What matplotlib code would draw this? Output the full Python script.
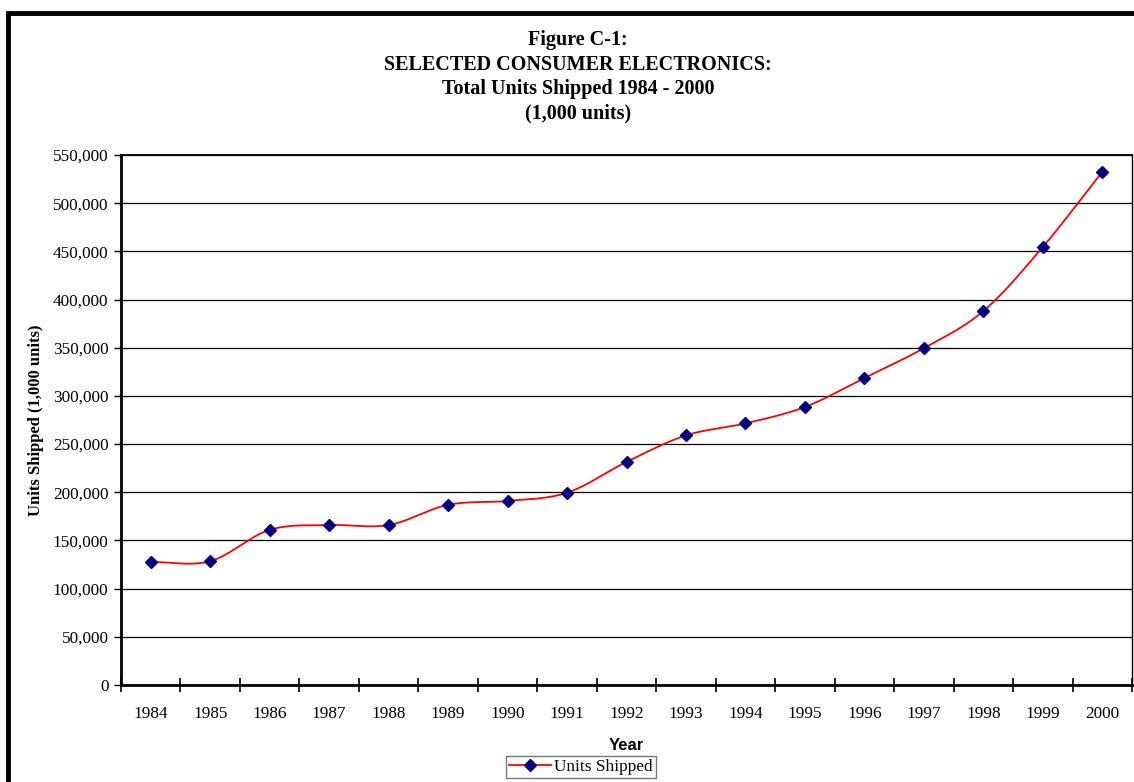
import matplotlib.pyplot as plt
import matplotlib.patches as patches
import numpy as np

years = ["1984", "1985", "1986", "1987", "1988", "1989", "1990", "1991", "1992",
         "1993", "1994", "1995", "1996", "1997", "1998", "1999", "2000"]
units = [127600, 128500, 161000, 166000, 166000, 187000, 191000, 199500, 231500,
         259000, 271500, 288500, 318500, 349500, 388000, 454500, 532500]
y_ticks = list(range(0, 550001, 50000))


def smooth(x, y, n=20):
    # Catmull-Rom style curve like Excel's "smoothed line"
    x = np.asarray(x, float)
    y = np.asarray(y, float)
    px = np.concatenate([[2 * x[0] - x[1]], x, [2 * x[-1] - x[-2]]])
    py = np.concatenate([[2 * y[0] - y[1]], y, [2 * y[-1] - y[-2]]])
    xs, ys = [], []
    t = np.linspace(0, 1, n)
    for i in range(1, len(px) - 2):
        p0, p1, p2, p3 = px[i - 1], px[i], px[i + 1], px[i + 2]
        q0, q1, q2, q3 = py[i - 1], py[i], py[i + 1], py[i + 2]
        b1x, b1y = p1 + (p2 - p0) / 6, q1 + (q2 - q0) / 6
        b2x, b2y = p2 - (p3 - p1) / 6, q2 - (q3 - q1) / 6
        xs.append((1 - t) ** 3 * p1 + 3 * (1 - t) ** 2 * t * b1x + 3 * (1 - t) * t ** 2 * b2x + t ** 3 * p2)
        ys.append((1 - t) ** 3 * q1 + 3 * (1 - t) ** 2 * t * b1y + 3 * (1 - t) * t ** 2 * b2y + t ** 3 * q2)
    return np.concatenate(xs), np.concatenate(ys)


serif = "Liberation Serif"
sans = "Liberation Sans"

fig = plt.figure(figsize=(11.34, 7.82), dpi=100)
ax = fig.add_axes([121 / 1134, 97 / 782, 1011 / 1134, 530 / 782])

x = np.arange(len(years))
sx, sy = smooth(x, units)
ax.plot(sx, sy, color="red", lw=1.3, zorder=3)
ax.plot(x, units, ls="none", marker="D", ms=6.5, color="#000080", zorder=4)
leg_line, = ax.plot([], [], color="red", lw=1.3, marker="D", ms=6.5,
                    mfc="#000080", mec="#000080", label="Units Shipped")

ax.set_xlim(-0.5, len(years) - 0.5)
ax.set_ylim(0, 550000)
ax.set_yticks(y_ticks)
ax.set_yticklabels([f"{v:,}" for v in y_ticks], fontfamily=serif, fontsize=12.4)
ax.set_xticks(x)
ax.set_xticklabels(years, fontfamily=serif, fontsize=12.4)
ax.tick_params(axis="x", length=0, pad=15)
ax.set_xticks(np.arange(-0.5, len(years)), minor=True)
ax.tick_params(axis="x", which="minor", direction="inout", length=10, width=1.2)
ax.tick_params(axis="y", direction="out", length=5, width=1, pad=4)
ax.grid(axis="y", color="black", lw=0.9)
ax.set_axisbelow(True)

for s in ["left", "bottom"]:
    ax.spines[s].set_linewidth(2)
ax.spines["top"].set_linewidth(1.3)
ax.spines["right"].set_linewidth(1)

ax.set_xlabel("Year", fontfamily=sans, fontweight="bold", fontsize=12, labelpad=12)
ax.set_ylabel("Units Shipped (1,000 units)", fontfamily=serif, fontweight="bold",
              fontsize=12, labelpad=6)

title = ["Figure C-1:", "SELECTED CONSUMER ELECTRONICS:",
         "Total Units Shipped 1984 - 2000", "(1,000 units)"]
for i, line in enumerate(title):
    fig.text(578 / 1134, 1 - (40 + i * 24.5) / 782, line, ha="center", va="center",
             fontfamily=serif, fontweight="bold", fontsize=14.5)

leg = fig.legend(handles=[leg_line], loc="center", bbox_to_anchor=(581 / 1134, 1 - 767 / 782),
                 prop={"family": serif, "size": 12.4}, fancybox=False, handlelength=2.4,
                 handletextpad=0.2, borderpad=0.2, borderaxespad=0)
leg.get_frame().set_edgecolor("#555555")
leg.get_frame().set_linewidth(1)

# thick outer frame, cut off at the right and bottom edges
fig.patches.append(patches.Rectangle((8 / 1134, -0.1), 1.2, 1 - 13 / 782 + 0.1,
                                     transform=fig.transFigure, fill=False,
                                     edgecolor="black", lw=3.5))

fig.savefig("out.png", dpi=100)
